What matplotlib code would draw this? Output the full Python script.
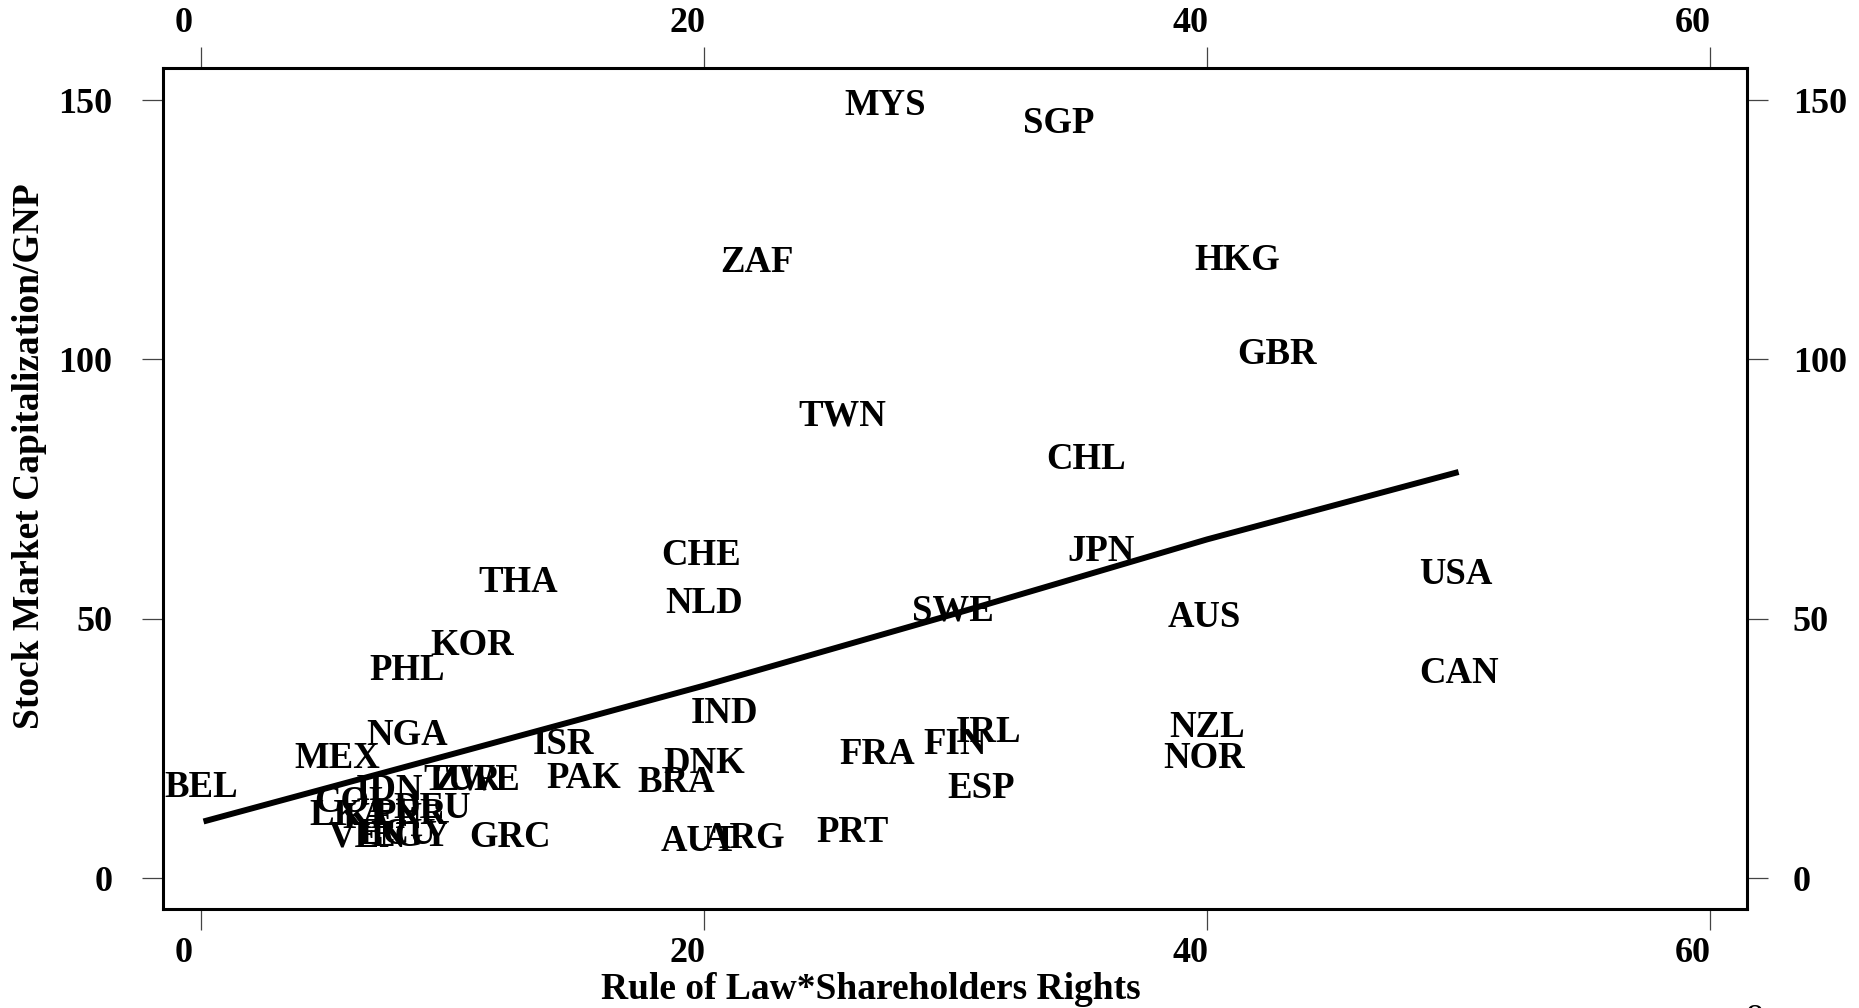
import matplotlib
matplotlib.use("Agg")
import matplotlib.pyplot as plt
import matplotlib.transforms as mtransforms

# country codes with (rule of law * shareholder rights, market cap / GNP)
countries = ["MYS", "SGP", "ZAF", "HKG", "GBR", "TWN", "CHL", "JPN", "USA", "CAN",
             "AUS", "SWE", "THA", "CHE", "NLD", "KOR", "PHL", "NGA", "MEX", "BEL",
             "ISR", "IND", "DNK", "PAK", "BRA", "FRA", "FIN", "IRL", "ESP", "NZL",
             "NOR", "PRT", "AUT", "ARG", "GRC", "TUR", "ZWE", "COL", "IDN", "DEU",
             "LKA", "KEN", "PER", "VEN", "ECU", "EGY"]
rule_x = [27.2, 34.1, 22.1, 41.2, 42.8, 25.5, 35.2, 35.8, 49.9, 50.0,
          39.9, 29.9, 12.6, 19.9, 20.0, 10.8, 8.2, 8.2, 5.4, 0.0,
          14.4, 20.8, 20.0, 15.2, 18.9, 26.9, 30.0, 31.3, 31.0, 40.0,
          39.9, 25.9, 19.8, 21.6, 12.3, 10.4, 11.0, 6.1, 7.5, 9.2,
          5.9, 7.2, 8.3, 6.6, 7.8, 8.3]
mcap_y = [148.9, 145.5, 118.7, 119.0, 100.9, 89.1, 80.8, 63.0, 58.6, 39.4,
          50.2, 51.5, 57.0, 62.2, 52.9, 44.9, 40.1, 27.5, 23.0, 17.5,
          25.7, 31.7, 22.1, 19.1, 18.4, 23.9, 25.7, 28.0, 17.3, 29.1,
          23.0, 8.8, 7.0, 7.7, 7.9, 18.9, 18.9, 14.5, 16.8, 13.4,
          12.0, 11.5, 12.3, 7.9, 8.3, 8.0]

# fitted line
fit_x = [0.1, 10, 20, 30, 40, 50]
fit_y = [10.9, 23.9, 37.1, 51.0, 65.3, 78.3]

xticks = [0, 20, 40, 60]
yticks = [0, 50, 100, 150]

font = "Liberation Serif"
fig = plt.figure(figsize=(18.59, 10.08), dpi=100)
ax = fig.add_axes([0.0877, 0.0982, 0.8521, 0.8343])

for c, x, y in zip(countries, rule_x, mcap_y):
    ax.text(x, y, c, ha="center", va="center", fontsize=26.5, fontweight="bold",
            family=font)

ax.plot(fit_x, fit_y, color="black", linewidth=4.3, solid_capstyle="butt")

ax.set_xlim(-1.51, 61.47)
ax.set_ylim(-5.98, 156.2)
ax.set_xticks(xticks)
ax.set_yticks(yticks)
for s in ax.spines.values():
    s.set_linewidth(2.2)

ax.tick_params(axis="both", direction="out", length=15, width=0.9, color="#444444",
               labelsize=26, top=True, right=True, labeltop=True, labelright=True)

# stata puts x labels a bit left of the tick
shift = mtransforms.ScaledTranslation(-17 / 100, 0, fig.dpi_scale_trans)
for t in ax.xaxis.get_major_ticks():
    t.set_pad(5)
    for lab in (t.label1, t.label2):
        lab.set_fontweight("bold")
        lab.set_family(font)
        lab.set_transform(lab.get_transform() + shift)
for t in ax.yaxis.get_major_ticks():
    t.set_pad(18)
    for lab in (t.label1, t.label2):
        lab.set_fontweight("bold")
        lab.set_family(font)
for t in ax.yaxis.get_major_ticks():
    t.label1.set_transform(t.label1.get_transform() +
                           mtransforms.ScaledTranslation(-5 / 100, 0, fig.dpi_scale_trans))

fig.text(0.4686, 0.018, "Rule of Law*Shareholders Rights", ha="center", va="center",
         fontsize=27, fontweight="bold", family=font)
fig.text(0.0161, 0.5476, "Stock Market Capitalization/GNP", ha="center", va="center",
         rotation=90, fontsize=27, fontweight="bold", family=font)
fig.text(0.944, -0.012, "8", ha="center", va="center", fontsize=26, family=font)

fig.savefig("out.png", dpi=100)
